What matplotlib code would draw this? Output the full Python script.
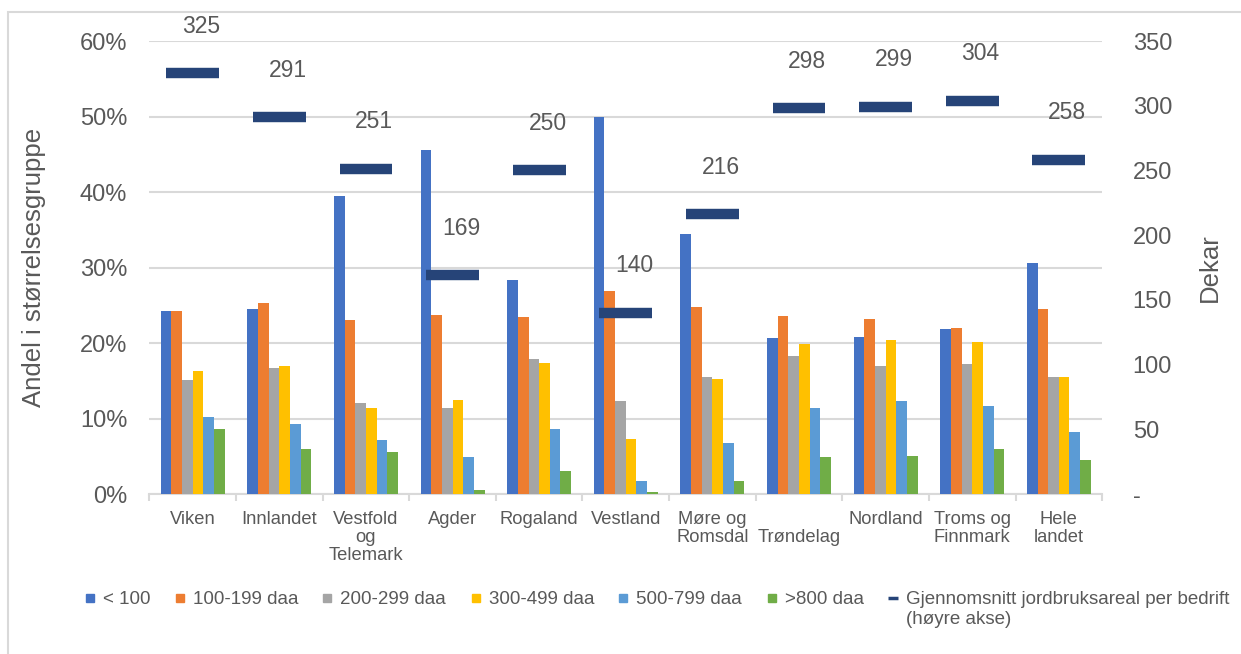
import matplotlib
matplotlib.use("Agg")
import matplotlib.pyplot as plt
import numpy as np
from matplotlib.lines import Line2D
from matplotlib.patches import Rectangle
from matplotlib.ticker import PercentFormatter, FixedLocator

plt.rcParams['font.family'] = ['Liberation Sans', 'DejaVu Sans']

# regioner og andel (%) per størrelsesgruppe
regioner = ["Viken", "Innlandet", "Vestfold\nog\nTelemark", "Agder", "Rogaland",
            "Vestland", "Møre og\nRomsdal", "\nTrøndelag", "Nordland",
            "Troms og\nFinnmark", "Hele\nlandet"]
grupper = ["< 100", "100-199 daa", "200-299 daa", "300-499 daa", "500-799 daa", ">800 daa"]
under100 = [24.3, 24.5, 39.5, 45.6, 28.3, 49.9, 34.5, 20.6, 20.8, 21.8, 30.6]
daa100_199 = [24.3, 25.3, 23.0, 23.7, 23.4, 26.9, 24.8, 23.6, 23.2, 22.0, 24.5]
daa200_299 = [15.1, 16.7, 12.1, 11.4, 17.9, 12.3, 15.5, 18.3, 17.0, 17.2, 15.5]
daa300_499 = [16.3, 16.9, 11.4, 12.5, 17.4, 7.3, 15.3, 19.9, 20.4, 20.2, 15.5]
daa500_799 = [10.2, 9.3, 7.2, 4.9, 8.6, 1.7, 6.8, 11.4, 12.3, 11.6, 8.2]
over800 = [8.6, 5.9, 5.6, 0.6, 3.1, 0.3, 1.7, 4.9, 5.0, 5.9, 4.5]
# gjennomsnitt jordbruksareal per bedrift (dekar, høyre akse)
snitt = [325, 291, 251, 169, 250, 140, 216, 298, 299, 304, 258]
snitt_navn = "Gjennomsnitt jordbruksareal per bedrift"
snitt_navn2 = "(høyre akse)"

farger = ["#4472C4", "#ED7D31", "#A5A5A5", "#FFC000", "#5B9BD5", "#70AD47"]
mork = "#264478"
tekst = "#595959"

fig = plt.figure(figsize=(12.41, 6.54), dpi=100)
ax = fig.add_axes([0.1204, 0.2446, 0.7677, 0.6927])
ax2 = ax.twinx()

# ramme rundt hele figuren
fig.patches.append(Rectangle((8 / 1241, -0.1), 1.2, 1 - 12 / 654 + 0.1,
                             transform=fig.transFigure, fill=False,
                             edgecolor="#D9D9D9", lw=1.5))

x = np.arange(len(regioner))
serier = [under100, daa100_199, daa200_299, daa300_499, daa500_799, over800]
bw = 0.123
for i, (verdier, farge) in enumerate(zip(serier, farger)):
    ax.bar(x + (i - 2.5) * bw, verdier, bw, color=farge, zorder=3)

ax.set_xlim(-0.5, len(regioner) - 0.5)
ax.set_ylim(0, 60)
ax.set_yticks(np.arange(0, 61, 10))
ax.yaxis.set_major_formatter(PercentFormatter(decimals=0))
ax.grid(axis="y", color="#D9D9D9", lw=1.5, zorder=0)
ax.set_axisbelow(True)
for s in ["top", "left", "right"]:
    ax.spines[s].set_visible(False)
ax.spines["bottom"].set_color("#D9D9D9")
ax.spines["bottom"].set_linewidth(1.5)
ax.set_xticks(x)
ax.set_xticklabels(regioner, fontsize=13.2, color=tekst, linespacing=1.1)
ax.xaxis.set_minor_locator(FixedLocator(np.arange(-0.5, len(regioner), 1)))
ax.tick_params(axis="x", which="major", length=0, pad=12)
ax.tick_params(axis="x", which="minor", length=5, color="#D9D9D9", width=1.5)
ax.tick_params(axis="y", length=0, pad=16, labelsize=17, labelcolor=tekst)
ax.set_ylabel("Andel i størrelsesgruppe", fontsize=18.5, color=tekst)
ax.yaxis.set_label_coords(-0.109, 0.5)

# høyre akse med snitt-streker
ax2.hlines(snitt, x - 0.305, x + 0.305, color=mork, lw=7.5, zorder=4)
for xi, v in zip(x, snitt):
    ax2.annotate(str(v), (xi, v), xytext=(6, 34), textcoords="offset points",
                 ha="center", va="center", fontsize=16.5, color=tekst)
ax2.set_ylim(0, 350)
ax2.set_yticks(np.arange(0, 351, 50))
ax2.set_yticklabels(["-"] + [str(t) for t in range(50, 351, 50)])
for s in ["top", "left", "right", "bottom"]:
    ax2.spines[s].set_visible(False)
ax2.tick_params(axis="y", length=0, pad=22, labelsize=17, labelcolor=tekst)
ax2.set_ylabel("Dekar", fontsize=18.5, color=tekst)
ax2.yaxis.set_label_coords(1.1005, 0.5)

handles = [Line2D([], [], ls="none", marker="s", markersize=5.2, color=f) for f in farger]
handles.append(Line2D([], [], ls="none", marker="_", markersize=7.5, mew=2.5, color=mork))
leg = fig.legend(handles, grupper + [snitt_navn], loc="upper left",
                 bbox_to_anchor=(84 / 1241, 1 - 591 / 654), ncol=7, frameon=False,
                 fontsize=13.5, labelcolor=tekst, handlelength=0.6, handletextpad=0.4,
                 columnspacing=1.26, borderpad=0, borderaxespad=0)

# andre linje av siste forklaring, justert under første linje
fig.canvas.draw()
bb = leg.get_texts()[-1].get_window_extent()
fig.text(bb.x0 / 1241, (bb.y0 - 11) / 654, snitt_navn2, fontsize=13.5, color=tekst,
         ha="left", va="center")

fig.savefig("out.png", dpi=100, facecolor="white")
